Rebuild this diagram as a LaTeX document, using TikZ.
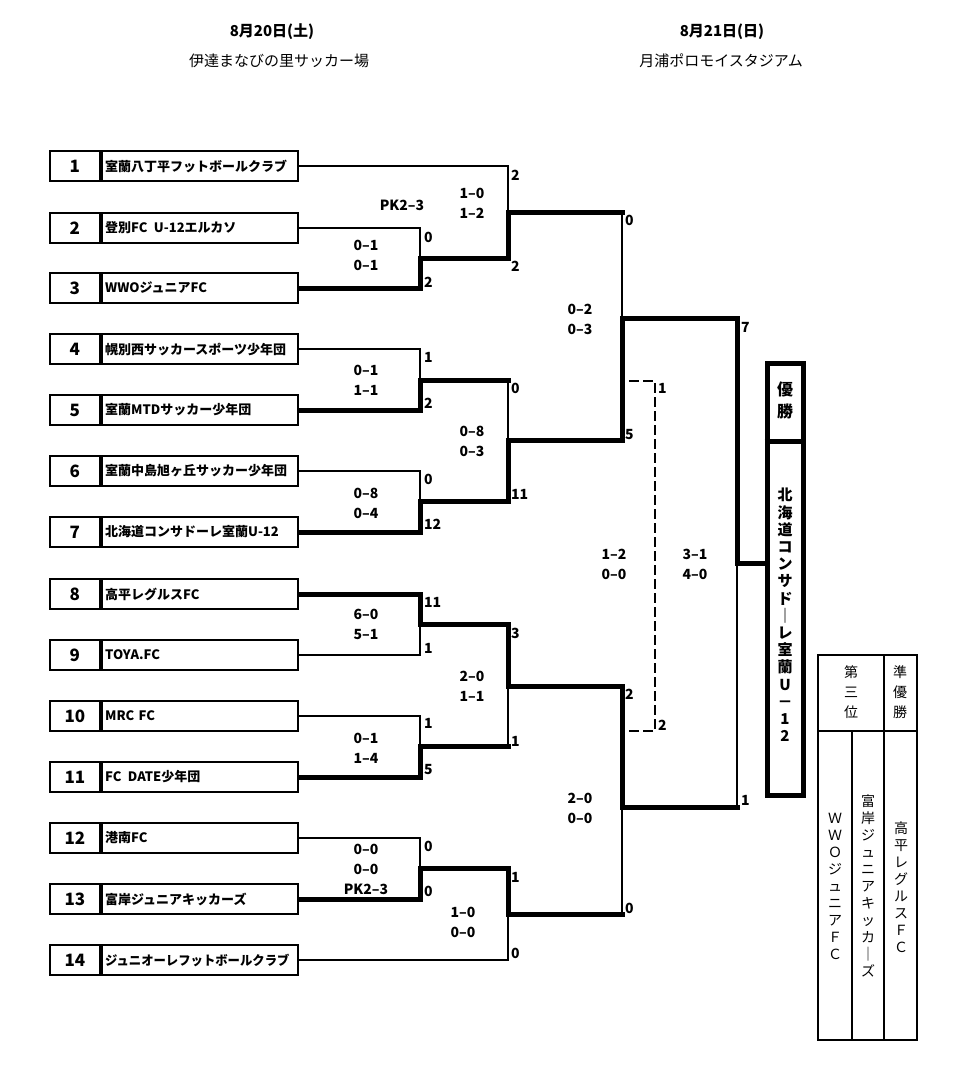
\documentclass[tikz,border=0pt]{standalone}
\usepackage{fontspec}
\setmainfont{Noto Sans CJK JP}
\begin{document}
\begin{tikzpicture}[x=1pt,y=-1pt,
  thinl/.style={line width=1.4pt},
  thickl/.style={line width=5pt,line cap=rect},
  dashl/.style={line width=1.4pt,dash pattern=on 10pt off 4pt},
  namebox/.style={draw,line width=2.2pt,minimum height=30pt,text width=190pt,inner xsep=3pt,inner ysep=0pt,align=left,anchor=west,font=\bfseries\fontsize{13}{13}\selectfont},
  numbox/.style={draw,line width=2.2pt,minimum height=30pt,minimum width=50pt,inner sep=0pt,anchor=east,font=\bfseries\fontsize{17}{17}\selectfont},
  sc/.style={inner sep=0pt,align=center,font=\bfseries\fontsize{14}{20}\selectfont},
  gl/.style={sc,anchor=west},
  hd/.style={inner sep=0pt,font=\bfseries\fontsize{15}{15}\selectfont},
  hv/.style={inner sep=0pt,font=\fontsize{15}{15}\selectfont},
  vt/.style={inner sep=0pt,align=center,font=\fontsize{14}{17}\selectfont}]
\useasboundingbox (0,0) rectangle (965,1070);
% headers
\node[hd] (h1) at (272,32) {8月20日(土)};
\node[hv] (h2) at (279,61) {伊達まなびの里サッカー場};
\node[hd] (h3) at (722,32) {8月21日(日)};
\node[hv] (h4) at (721,61) {月浦ポロモイスタジアム};
% teams
\node[namebox] (b1) at (101,166) {室蘭八丁平フットボールクラブ};
\node[namebox] (b2) at (101,228) {登別FC\enspace U-12エルカソ};
\node[namebox] (b3) at (101,288) {WWOジュニアFC};
\node[namebox] (b4) at (101,349) {幌別西サッカースポーツ少年団};
\node[namebox] (b5) at (101,410) {室蘭MTDサッカー少年団};
\node[namebox] (b6) at (101,471) {室蘭中島旭ヶ丘サッカー少年団};
\node[namebox] (b7) at (101,532) {北海道コンサドーレ室蘭U-12};
\node[namebox] (b8) at (101,594) {高平レグルスFC};
\node[namebox] (b9) at (101,655) {TOYA.FC};
\node[namebox] (b10) at (101,716) {MRC FC};
\node[namebox] (b11) at (101,777) {FC\enspace DATE少年団};
\node[namebox] (b12) at (101,838) {港南FC};
\node[namebox] (b13) at (101,899) {富岸ジュニアキッカーズ};
\node[namebox] (b14) at (101,960) {\scalebox{0.95}[1]{ジュニオーレフットボールクラブ}};
\foreach \i in {1,...,14} {\node[numbox] (n\i) at (b\i.west) {\i};}
% junctions
\coordinate (m23) at (420,258);
\coordinate (m1) at (508,212);
\coordinate (m1r) at (622,212);
\coordinate (m45) at (420,380);
\coordinate (m45r) at (508,380);
\coordinate (m67) at (420,501);
\coordinate (m47) at (508,440);
\coordinate (s1) at (622,318);
\coordinate (m89) at (420,624);
\coordinate (m1011) at (420,746);
\coordinate (m1011r) at (508,746);
\coordinate (m811) at (508,686);
\coordinate (m1213) at (420,868);
\coordinate (m1214) at (508,914);
\coordinate (m1214r) at (622,914);
\coordinate (s2) at (622,807);
\coordinate (s2r) at (737,807);
\coordinate (f) at (737,563);
% champion box
\node[draw,line width=5pt,minimum width=36pt,minimum height=432pt,inner sep=0pt] (ch) at (785,579) {};
\draw[line width=5pt] (ch.west |- 0,441) coordinate (cdl) -- (ch.east |- 0,441) coordinate (cdr);
\node[inner sep=0pt,align=center,font=\bfseries\fontsize{16}{22}\selectfont] (yu) at (785,400) {優\\勝};
\node[inner sep=0pt,align=center,font=\bfseries\fontsize{15}{17.2}\selectfont] (cn) at (785,615) {北\\海\\道\\コ\\ン\\サ\\ド\\｜\\レ\\室\\蘭\\U\\－\\1\\2};
% lines
\draw[thinl] (b1.east) -| (m1);
\draw[thinl] (b2.east) -| (m23);
\draw[thickl] (b3.east) -| (m23);
\draw[thickl] (m23) -| (m1);
\draw[thickl] (m1) -- (m1r);
\draw[thinl] (m1r) -- (s1);
\draw[thinl] (b4.east) -| (m45);
\draw[thickl] (b5.east) -| (m45);
\draw[thickl] (m45) -- (m45r);
\draw[thinl] (m45r) -- (m47);
\draw[thinl] (b6.east) -| (m67);
\draw[thickl] (b7.east) -| (m67);
\draw[thickl] (m67) -| (m47);
\draw[thickl] (m47) -| (s1);
\draw[thickl] (s1) -| (f);
\draw[thickl] (b8.east) -| (m89);
\draw[thinl] (b9.east) -| (m89);
\draw[thickl] (m89) -| (m811);
\draw[thinl] (b10.east) -| (m1011);
\draw[thickl] (b11.east) -| (m1011);
\draw[thickl] (m1011) -- (m1011r);
\draw[thinl] (m1011r) -- (m811);
\draw[thickl] (m811) -| (s2);
\draw[thinl] (b12.east) -| (m1213);
\draw[thickl] (b13.east) -| (m1213);
\draw[thickl] (m1213) -| (m1214);
\draw[thinl] (b14.east) -| (m1214);
\draw[thickl] (m1214) -- (m1214r);
\draw[thinl] (m1214r) -- (s2);
\draw[thickl] (s2) -- (s2r);
\draw[thinl] (s2r) -- (f);
\draw[thickl] (f) -- (f -| ch.west);
% third place (dashed)
\coordinate (d1) at (629,381);
\coordinate (d1r) at (655,381);
\coordinate (d2r) at (655,731);
\coordinate (d2) at (629,731);
\draw[dashl] (d1) -- (d1r) -- (d2r) -- (d2);
% goal labels
\node[gl] (g1) at (511,175) {2};
\node[gl] (g2) at (511,266) {2};
\node[gl] (g3) at (511,388) {0};
\node[gl] (g4) at (511,494) {11};
\node[gl] (g5) at (511,633) {3};
\node[gl] (g6) at (511,741) {1};
\node[gl] (g7) at (511,877) {1};
\node[gl] (g8) at (511,953) {0};
\node[gl] (r1) at (424,237) {0};
\node[gl] (r2) at (424,282) {2};
\node[gl] (r3) at (424,357) {1};
\node[gl] (r4) at (424,403) {2};
\node[gl] (r5) at (424,479) {0};
\node[gl] (r6) at (424,524) {12};
\node[gl] (r7) at (424,602) {11};
\node[gl] (r8) at (424,648) {1};
\node[gl] (r9) at (424,723) {1};
\node[gl] (r10) at (424,770) {5};
\node[gl] (r11) at (424,846) {0};
\node[gl] (r12) at (424,891) {0};
\node[gl] (q1) at (625,220) {0};
\node[gl] (q2) at (625,435) {5};
\node[gl] (q3) at (625,694) {2};
\node[gl] (q4) at (625,908) {0};
\node[gl] (p1) at (741,327) {7};
\node[gl] (p2) at (741,800) {1};
\node[gl] (t1) at (658,388) {1};
\node[gl] (t2) at (658,725) {2};
% half scores
\node[sc] (k1) at (402,205) {PK2–3};
\node[sc] (k2) at (472,203) {1–0\\1–2};
\node[sc] (k3) at (366,255) {0–1\\0–1};
\node[sc] (k4) at (580,319) {0–2\\0–3};
\node[sc] (k5) at (366,380) {0–1\\1–1};
\node[sc] (k6) at (472,441) {0–8\\0–3};
\node[sc] (k7) at (366,503) {0–8\\0–4};
\node[sc] (k8) at (614,564) {1–2\\0–0};
\node[sc] (k9) at (695,564) {3–1\\4–0};
\node[sc] (k10) at (366,624) {6–0\\5–1};
\node[sc] (k11) at (472,686) {2–0\\1–1};
\node[sc] (k12) at (366,748) {0–1\\1–4};
\node[sc] (k13) at (580,808) {2–0\\0–0};
\node[sc] (k14) at (366,869) {0–0\\0–0\\PK2–3};
\node[sc] (k15) at (463,922) {1–0\\0–0};
% results table
\draw[line width=1.8pt] (818,655) rectangle (917,1040);
\draw[line width=1.8pt] (818,731) -- (917,731);
\draw[line width=1.8pt] (884,655) -- (884,1040);
\draw[line width=1.8pt] (852,731) -- (852,1040);
\node[vt,font=\fontsize{14}{20}\selectfont] (tt1) at (851,692) {第\\三\\位};
\node[vt,font=\fontsize{14}{20}\selectfont] (tt2) at (900,692) {準\\優\\勝};
\node[vt] (tt3) at (835,886) {Ｗ\\Ｗ\\Ｏ\\ジ\\ュ\\ニ\\ア\\Ｆ\\Ｃ};
\node[vt] (tt4) at (868,886) {富\\岸\\ジ\\ュ\\ニ\\ア\\キ\\ッ\\カ\\｜\\ズ};
\node[vt] (tt5) at (901,887) {高\\平\\レ\\グ\\ル\\ス\\Ｆ\\Ｃ};
\end{tikzpicture}
\end{document}
